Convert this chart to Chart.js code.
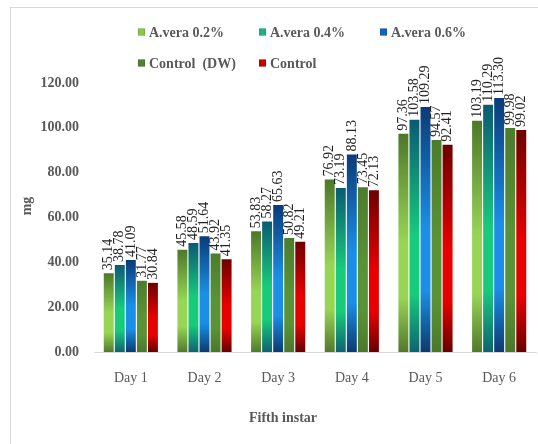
<!DOCTYPE html>
<html>
<head>
<meta charset="utf-8">
<style>
  html, body { margin: 0; padding: 0; background: #ffffff; }
  #wrap { width: 538px; height: 444px; position: relative; }
</style>
<script src="https://cdn.jsdelivr.net/npm/chart.js@4/dist/chart.umd.min.js"></script>
</head>
<body>
<div id="wrap"><canvas id="chart" width="538" height="444"></canvas></div>
<script>
// Larval weight (mg) during the fifth instar
const days = ['Day 1', 'Day 2', 'Day 3', 'Day 4', 'Day 5', 'Day 6'];
const seriesNames = ['A.vera 0.2%', 'A.vera 0.4%', 'A.vera 0.6%', 'Control  (DW)', 'Control'];
const avera02 = [35.14, 45.58, 53.83, 76.92, 97.36, 103.19];
const avera04 = [38.78, 48.59, 58.27, 73.19, 103.58, 110.29];
const avera06 = [41.09, 51.64, 65.63, 88.13, 109.29, 113.30];
const controlDW = [31.77, 43.92, 50.82, 73.45, 94.57, 99.98];
const control = [30.84, 41.35, 49.21, 72.13, 92.41, 99.02];
const yTicks = [0, 20, 40, 60, 80, 100, 120];

// top / middle / bottom shades of each bar's vertical gradient, plus legend swatch colour
const shades = [
  { top: '#4d782a', mid: '#98d555', bot: '#52792c', key: '#86c94a' },
  { top: '#0b5a72', mid: '#18cb7b', bot: '#0c6470', key: '#19b585' },
  { top: '#0a3b78', mid: '#1b8fe6', bot: '#0b3b70', key: '#1463b8' },
  { top: '#4c7c2d', mid: '#5a9337', bot: '#4a782b', key: '#548235' },
  { top: '#6e0000', mid: '#e80000', bot: '#680000', key: '#c80000' }
];

const serifFont = '"Liberation Serif", "Times New Roman", serif';
const textGrey = '#595959';

function barGradient(i) {
  return function (ctx) {
    const chart = ctx.chart;
    const s = shades[i];
    if (!chart.chartArea || ctx.raw === undefined) return s.mid;
    const y = chart.scales.y;
    const top = y.getPixelForValue(ctx.raw);
    const base = y.getPixelForValue(0);
    const g = chart.ctx.createLinearGradient(0, top, 0, base);
    g.addColorStop(0, s.top);
    g.addColorStop(0.5, s.mid);
    g.addColorStop(0.75, s.mid);
    g.addColorStop(1, s.bot);
    return g;
  };
}

const values = [avera02, avera04, avera06, controlDW, control];
const datasets = values.map((vals, i) => ({
  label: seriesNames[i],
  data: vals,
  backgroundColor: barGradient(i),
  borderWidth: 0,
  categoryPercentage: 0.75,
  barPercentage: 0.9
}));

// light frame round the chart, axis titles, legend and rotated value labels
const decorations = {
  id: 'decorations',
  beforeDraw(chart) {
    const c = chart.ctx;
    c.save();
    c.fillStyle = '#ffffff';
    c.fillRect(0, 0, chart.width, chart.height);
    c.strokeStyle = '#d9d9d9';
    c.lineWidth = 1;
    c.strokeRect(10.5, 7.5, chart.width + 20, chart.height + 20);
    c.restore();
  },
  afterDatasetsDraw(chart) {
    const c = chart.ctx;
    c.save();
    c.font = '14px ' + serifFont;
    c.fillStyle = '#222222';
    c.textAlign = 'left';
    c.textBaseline = 'middle';
    chart.data.datasets.forEach((ds, i) => {
      const meta = chart.getDatasetMeta(i);
      meta.data.forEach((bar, j) => {
        const txt = ds.data[j].toFixed(2);
        c.save();
        c.translate(bar.x, bar.y - 3);
        c.rotate(-Math.PI / 2);
        c.fillText(txt, 0, 0);
        c.restore();
      });
    });
    c.restore();
  },
  afterDraw(chart) {
    const c = chart.ctx;
    c.save();
    // legend laid out in a fixed grid of three columns
    const cols = [138, 259, 380];
    const rows = [32, 63];
    c.font = 'bold 14px ' + serifFont;
    c.textBaseline = 'middle';
    c.textAlign = 'left';
    seriesNames.forEach((name, i) => {
      const x = cols[i % 3];
      const y = rows[Math.floor(i / 3)];
      c.fillStyle = shades[i].key;
      c.fillRect(x, y - 3.5, 7, 7);
      c.strokeStyle = 'rgba(0,0,0,0.25)';
      c.lineWidth = 0.5;
      c.strokeRect(x + 0.25, y - 3.25, 6.5, 6.5);
      c.fillStyle = textGrey;
      c.fillText(name, x + 11, y + 1);
    });
    // axis titles
    c.font = 'bold 14px ' + serifFont;
    c.fillStyle = textGrey;
    c.textAlign = 'center';
    c.fillText('Fifth instar', 283, 418);
    c.save();
    c.translate(27, 206);
    c.rotate(-Math.PI / 2);
    c.fillText('mg', 0, 0);
    c.restore();
    c.restore();
  }
};

new Chart(document.getElementById('chart'), {
  type: 'bar',
  data: { labels: days, datasets: datasets },
  options: {
    responsive: false,
    animation: false,
    events: [],
    layout: { padding: { left: 0, top: 83, right: 2, bottom: 0 } },
    plugins: {
      legend: { display: false },
      tooltip: { enabled: false }
    },
    scales: {
      x: {
        grid: { display: false, drawTicks: false },
        border: { display: true, color: '#d9d9d9', width: 1 },
        ticks: {
          color: textGrey,
          font: { family: serifFont, size: 14 },
          padding: 18,
          maxRotation: 0
        },
        afterFit(scale) { scale.height = 92; }
      },
      y: {
        min: 0,
        max: 120,
        afterBuildTicks(scale) { scale.ticks = yTicks.map(v => ({ value: v })); },
        grid: { display: false, drawTicks: false },
        border: { display: false },
        ticks: {
          color: textGrey,
          font: { family: serifFont, size: 14, weight: 'bold' },
          padding: 15,
          callback: v => Number(v).toFixed(2)
        },
        afterFit(scale) { scale.width = 94; }
      }
    }
  },
  plugins: [decorations]
});
</script>
</body>
</html>
